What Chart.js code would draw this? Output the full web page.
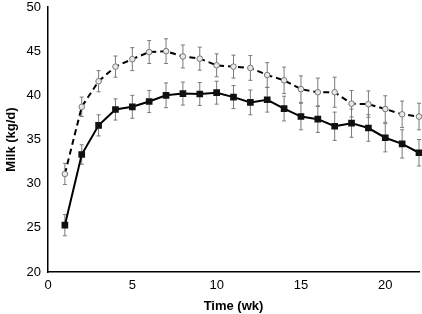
<!DOCTYPE html>
<html>
<head>
<meta charset="utf-8">
<script src="https://cdn.jsdelivr.net/npm/chart.js@4/dist/chart.umd.min.js"></script>
<style>
  html, body { margin: 0; padding: 0; background: #fff; overflow: hidden; }
  #wrap { width: 422px; height: 314px; overflow: hidden; }
</style>
</head>
<body>
<div id="wrap"><canvas id="milkChart" width="425" height="314"></canvas></div>
<script>
// semanas y producción de leche (kg/d)
var weeks = [1, 2, 3, 4, 5, 6, 7, 8, 9, 10, 11, 12, 13, 14, 15, 16, 17, 18, 19, 20, 21, 22];
var solidMilk = [25.3, 33.3, 36.6, 38.4, 38.7, 39.3, 40.0, 40.2, 40.15, 40.3, 39.8, 39.2, 39.5, 38.5, 37.6, 37.3, 36.5, 36.85, 36.3, 35.2, 34.5, 33.5];
var solidErr = [1.2, 1.1, 1.2, 1.2, 1.3, 1.25, 1.4, 1.3, 1.3, 1.3, 1.3, 1.4, 1.4, 1.4, 1.5, 1.5, 1.6, 1.6, 1.5, 1.6, 1.6, 1.5];
var dashedMilk = [31.1, 38.7, 41.6, 43.25, 44.1, 44.9, 45.0, 44.4, 44.15, 43.4, 43.25, 43.1, 42.3, 41.7, 40.7, 40.35, 40.35, 39.05, 39.0, 38.45, 37.85, 37.6];
var dashedErr = [1.2, 1.1, 1.2, 1.2, 1.3, 1.3, 1.4, 1.3, 1.3, 1.3, 1.3, 1.4, 1.4, 1.5, 1.5, 1.6, 1.7, 1.5, 1.5, 1.5, 1.5, 1.5];
var xTicks = [0, 5, 10, 15, 20];
var yTicks = [20, 25, 30, 35, 40, 45, 50];

function toPoints(ys) {
    return weeks.map(function (w, i) { return { x: w, y: ys[i] }; });
}

// barras de error dibujadas con las escalas del gráfico
var errorBars = {
    id: 'errorBars',
    beforeDatasetsDraw: function (chart) {
        var ctx = chart.ctx;
        var xs = chart.scales.x, ys = chart.scales.y;
        var sets = [[dashedMilk, dashedErr], [solidMilk, solidErr]];
        ctx.save();
        ctx.strokeStyle = '#7a7a7a';
        ctx.lineWidth = 1;
        sets.forEach(function (s) {
            weeks.forEach(function (w, i) {
                var px = xs.getPixelForValue(w);
                var top = ys.getPixelForValue(s[0][i] + s[1][i]);
                var bot = ys.getPixelForValue(s[0][i] - s[1][i]);
                ctx.beginPath();
                ctx.moveTo(px, top); ctx.lineTo(px, bot);
                ctx.moveTo(px - 2, top); ctx.lineTo(px + 2, top);
                ctx.moveTo(px - 2, bot); ctx.lineTo(px + 2, bot);
                ctx.stroke();
            });
        });
        ctx.restore();
    }
};

var font = { family: '"Liberation Sans", Arial, sans-serif', size: 13 };

new Chart(document.getElementById('milkChart').getContext('2d'), {
    type: 'line',
    data: {
        datasets: [{
            data: toPoints(dashedMilk),
            borderColor: '#000',
            borderWidth: 2,
            borderDash: [6, 4],
            pointStyle: 'circle',
            pointRadius: 2.8,
            pointBackgroundColor: '#e8e8e8',
            pointBorderColor: '#777',
            pointBorderWidth: 1,
            tension: 0,
            clip: false
        }, {
            data: toPoints(solidMilk),
            borderColor: '#000',
            borderWidth: 2,
            pointStyle: 'rect',
            pointRadius: 3.3,
            pointBackgroundColor: '#111',
            pointBorderColor: '#111',
            tension: 0,
            clip: false
        }]
    },
    options: {
        responsive: false,
        animation: false,
        layout: { padding: { top: 7, right: 0, left: 0, bottom: 0 } },
        plugins: { legend: { display: false }, tooltip: { enabled: false } },
        scales: {
            x: {
                type: 'linear',
                min: 0, max: 22,
                afterBuildTicks: function (s) { s.ticks = xTicks.map(function (v) { return { value: v }; }); },
                afterFit: function (s) { s.height = 42; },
                grid: { display: false, drawTicks: true, tickLength: 3, tickColor: '#000' },
                border: { color: '#000', width: 1.5 },
                ticks: { color: '#000', font: font, padding: 3, maxRotation: 0 },
                title: { display: true, text: 'Time (wk)', color: '#000', font: { family: font.family, size: 13, weight: 'bold' }, padding: { top: 2, bottom: 0 } }
            },
            y: {
                min: 20, max: 50,
                afterBuildTicks: function (s) { s.ticks = yTicks.map(function (v) { return { value: v }; }); },
                afterFit: function (s) { s.width = 48; s.paddingTop = 0; s.paddingBottom = 0; },
                grid: { display: false, drawTicks: true, tickLength: 3, tickColor: '#000' },
                border: { color: '#000', width: 1.5 },
                ticks: { color: '#000', font: font, padding: 4 },
                title: { display: true, text: 'Milk (kg/d)', color: '#000', font: { family: font.family, size: 13, weight: 'bold' }, padding: { bottom: 2 } }
            }
        }
    },
    plugins: [errorBars]
});
</script>
</body>
</html>
